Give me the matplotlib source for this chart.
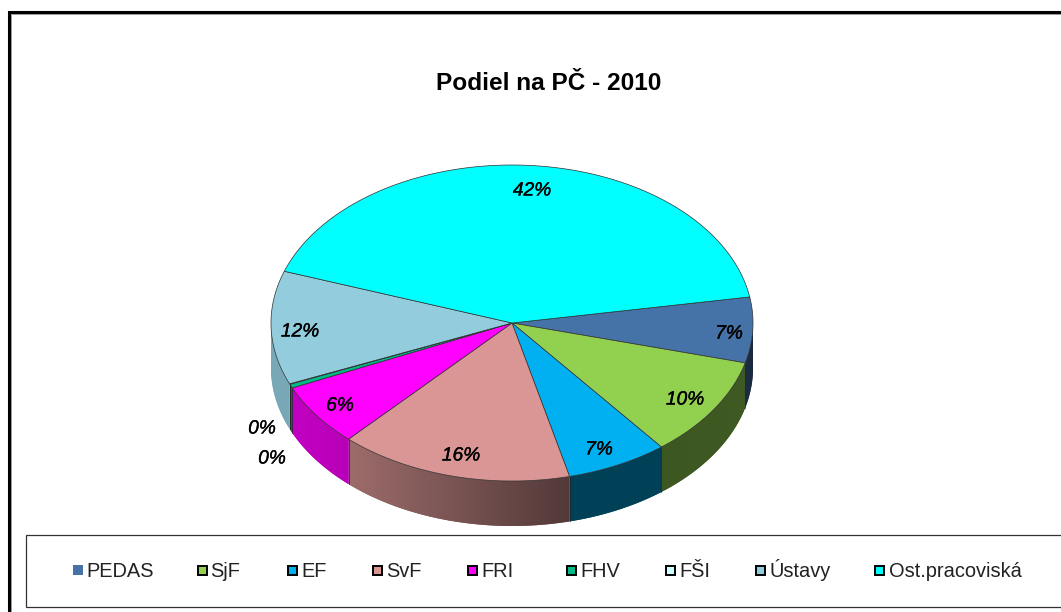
import numpy as np
import matplotlib
matplotlib.use("Agg")
import matplotlib.pyplot as plt
import matplotlib.patheffects as pe
from matplotlib.patches import Polygon, Rectangle

# ---- data ----
categories = ["PEDAS", "SjF", "EF", "SvF", "FRI", "FHV", "FŠI", "Ústavy", "Ost.pracoviská"]
values = [6.7, 10.3, 6.8, 15.7, 6.4, 0.4, 0.05, 11.6, 42.05]
colors = ["#4572A7", "#92D050", "#00B0F0", "#D99694", "#FF00FF", "#00B989", "#CCFFFF", "#93CDDD", "#00FFFF"]
title = "Podiel na PČ - 2010"

# ---- styling / layout (pixel space) ----
W, H = 1061, 612
cx, cy, rx, ry, depth = 512, 323, 241, 158, 45
start_angle = 9.5
shade_left = [0.42, 0.42, 0.37, 0.72, 0.76, 0.60, 0.80, 0.82, 0.80]
shade_right = [0.36, 0.43, 0.37, 0.38, 0.72, 0.60, 0.80, 0.82, 0.80]
label_xy = [(729, 333), (685, 399), (599, 449), (461, 455), (340, 405),
            (262, 428), (272, 458), (300, 331), (532, 190)]
legend_marker_x = [73, 197, 287, 372, 467, 566, 665, 755, 874]
legend_text_x = [86.5, 210.5, 301.5, 386.5, 481.5, 580.5, 679.5, 769.5, 888.5]
legend_y = 570

plt.rcParams["font.family"] = ["Liberation Sans", "DejaVu Sans"]
fig = plt.figure(figsize=(W / 100, H / 100), dpi=100, facecolor="white")
ax = fig.add_axes([0, 0, 1, 1])
ax.set_xlim(0, W)
ax.set_ylim(H, 0)
ax.set_autoscale_on(False)
ax.axis("off")


def rim(t0, t1, n=120):
    t = np.radians(np.linspace(t0, t1, n))
    return cx + rx * np.cos(t), cy - ry * np.sin(t)


total = sum(values)
sweeps = [v / total * 360 for v in values]
ends = start_angle - np.cumsum(sweeps)
starts = np.concatenate([[start_angle], ends[:-1]])

# side walls: a horizontal gradient clipped to each visible wall
for s, e, c, sl, sr in zip(starts, ends, colors, shade_left, shade_right):
    hi, lo = min(s, 0), max(e, -180)
    if hi <= lo:
        continue
    x, y = rim(hi, lo, 60)
    base = np.array(matplotlib.colors.to_rgb(c))
    pts = np.column_stack([np.r_[x, x[::-1]], np.r_[y, y[::-1] + depth]])
    wall = Polygon(pts, closed=True, facecolor=base * (sl + sr) / 2, edgecolor="none", zorder=2)
    ax.add_patch(wall)
    left, right = x.min(), x.max()
    grad = np.linspace(sl, sr, 64)[None, :, None] * base[None, None, :]
    im = ax.imshow(grad, extent=(left, right, y.max() + depth + 2, y.min() - 2),
                   aspect="auto", interpolation="bilinear", zorder=2.1)
    im.set_clip_path(wall)
    # edges of the wall
    if s <= 0:
        ax.plot([x[0], x[0]], [y[0], y[0] + depth], color="#222222", lw=0.45, alpha=0.7, zorder=3)
    if e >= -180:
        ax.plot([x[-1], x[-1]], [y[-1], y[-1] + depth], color="#222222", lw=0.45, alpha=0.7, zorder=3)

# top faces
for s, e, c in zip(starts, ends, colors):
    x, y = rim(s, e)
    pts = np.column_stack([np.r_[cx, x], np.r_[cy, y]])
    ax.add_patch(Polygon(pts, closed=True, facecolor=c, edgecolor="#303030", linewidth=0.5, zorder=4))

# data labels
for v, (lx, ly) in zip(values, label_xy):
    ax.text(lx, ly + 1, f"{v / total * 100:.0f}%", ha="center", va="center",
            fontsize=13.8, style="italic", color="black", zorder=6,
            path_effects=[pe.withStroke(linewidth=0.25, foreground="black")])

ax.text(549, 83.5, title, ha="center", va="center", fontsize=17.6, fontweight="bold", color="black")

# outer frame
ax.plot([8.5, 8.5, W], [H, 11.5, 11.5], color="black", lw=2.2, solid_joinstyle="miter")
ax.plot([10.7, 10.7, W], [H, 14, 14], color="#999999", lw=0.7, solid_joinstyle="miter")

# legend box
ax.add_patch(Rectangle((25.5, 534.5), W, 72.5, facecolor="white", edgecolor="#333333", linewidth=0.9, zorder=1))
for i, (name, c, mx, tx) in enumerate(zip(categories, colors, legend_marker_x, legend_text_x)):
    if i == 0:
        ax.add_patch(Rectangle((mx, legend_y - 5), 10, 10, facecolor=c, edgecolor="none", zorder=5))
    else:
        ax.add_patch(Rectangle((mx + 0.5, legend_y - 4.5), 9, 9, facecolor=c, edgecolor="black", linewidth=1.4, zorder=5))
    ax.text(tx, legend_y + 7, name, ha="left", va="baseline", fontsize=14.4, color="#222222", zorder=5)

fig.savefig("out.png", dpi=100)
